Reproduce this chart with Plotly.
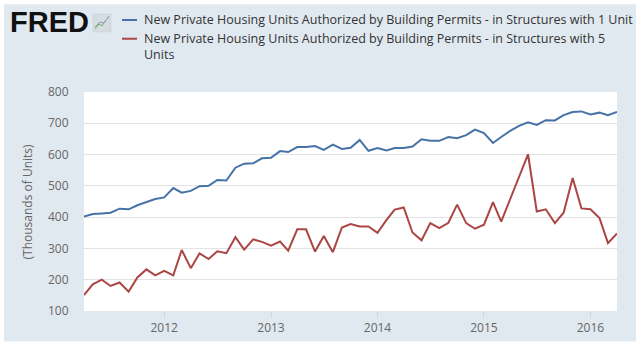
import pandas as pd
import plotly.graph_objects as go

# ---- data (thousands of units, SAAR), monthly Apr 2011 - Apr 2016 ----
dates = pd.date_range("2011-04-01", periods=61, freq="MS")
one_unit = [402, 410, 412, 414, 427, 425, 438, 448, 458, 463,
            493, 478, 484, 499, 500, 519, 517, 558, 571, 572,
            588, 590, 611, 608, 624, 624, 627, 615, 632, 618,
            622, 647, 612, 621, 613, 621, 621, 626, 649, 644,
            644, 656, 652, 662, 680, 669, 637, 656, 676, 692,
            703, 695, 710, 709, 726, 736, 738, 728, 734, 726, 736]
five_unit = [151, 185, 200, 180, 191, 162, 207, 233, 214, 228,
             214, 295, 237, 284, 266, 291, 285, 336, 296, 329,
             321, 309, 322, 293, 361, 361, 290, 340, 288, 367,
             378, 370, 370, 350, 391, 424, 431, 351, 326, 381,
             365, 382, 440, 381, 363, 376, 448, 386, 458, 530,
             601, 418, 425, 381, 414, 525, 428, 425, 397, 317, 348]
series_names = [
    "New Private Housing Units Authorized by Building Permits - in Structures with 1 Unit",
    "New Private Housing Units Authorized by Building Permits - in Structures with 5<br>Units",
]
y_ticks = [100, 200, 300, 400, 500, 600, 700, 800]
y_title = "(Thousands of Units)"

BLUE = "#4572a7"
RED = "#aa4643"
BG = "#e1e9f0"

W, H = 640, 348
L, R, T, B = 84, 23, 92, 34
PW, PH = W - L - R, H - T - B


def px(x):
    return (x - L) / PW


def py(y):
    return (H - B - y) / PH


fig = go.Figure()
fig.add_trace(go.Scatter(x=dates, y=one_unit, mode="lines", name=series_names[0],
                         line=dict(color=BLUE, width=2), showlegend=False))
fig.add_trace(go.Scatter(x=dates, y=five_unit, mode="lines", name=series_names[1],
                         line=dict(color=RED, width=2), showlegend=False))

shapes = [
    # outer light frame
    dict(type="rect", xref="paper", yref="paper", layer="below",
         x0=px(4), x1=px(636), y0=py(345), y1=py(3),
         fillcolor=BG, line=dict(width=0)),
    # white plot area
    dict(type="rect", xref="paper", yref="paper", layer="below",
         x0=0, x1=1, y0=0, y1=1, fillcolor="white", line=dict(width=0)),
    # logo icon
    dict(type="rect", xref="paper", yref="paper",
         x0=px(93), x1=px(111), y0=py(31), y1=py(13),
         fillcolor="#d5dde3", line=dict(width=0.5, color="#c4ccd2")),
    dict(type="path", xref="paper", yref="paper",
         path="M {} {} L {} {} L {} {} L {} {} L {} {}".format(
             px(95), py(28), px(99), py(23), px(102), py(25), px(106), py(19), px(109), py(16)),
         line=dict(color="#7aa85a", width=1)),
    dict(type="path", xref="paper", yref="paper",
         path="M {} {} L {} {} L {} {} L {} {}".format(
             px(95), py(26), px(100), py(21), px(104), py(22), px(109), py(15)),
         line=dict(color="#8aa0b8", width=1)),
    # legend symbols
    dict(type="line", xref="paper", yref="paper",
         x0=px(122), x1=px(137), y0=py(19), y1=py(19), line=dict(color=BLUE, width=2)),
    dict(type="line", xref="paper", yref="paper",
         x0=px(122), x1=px(137), y0=py(38), y1=py(38), line=dict(color=RED, width=2)),
]

legend_font = dict(family="Open Sans", size=12.5, color="#333333")
annotations = [
    dict(text="<b>FRED</b>", xref="paper", yref="paper", x=px(8), y=py(21),
         xanchor="left", yanchor="middle", showarrow=False,
         font=dict(family="Liberation Sans", size=29, color="#111111")),
    dict(text=series_names[0], xref="paper", yref="paper", x=px(142), y=py(19),
         xanchor="left", yanchor="middle", showarrow=False, align="left",
         font=legend_font),
    dict(text=series_names[1], xref="paper", yref="paper", x=px(142), y=py(46),
         xanchor="left", yanchor="middle", showarrow=False, align="left",
         font=legend_font),
    dict(text=y_title, xref="paper", yref="paper", x=px(27), y=0.5,
         xanchor="center", yanchor="middle", showarrow=False, textangle=-90,
         font=dict(family="Open Sans", size=12, color="#666666")),
]

fig.update_layout(
    width=W, height=H,
    margin=dict(l=L, r=R, t=T, b=B, pad=0),
    paper_bgcolor="white", plot_bgcolor="rgba(0,0,0,0)",
    shapes=shapes, annotations=annotations,
    font=dict(family="Open Sans", size=12, color="#666666"),
    xaxis=dict(
        type="date", range=[dates[0], dates[-1]],
        tick0="2012-01-01", dtick="M12", tickformat="%Y",
        ticks="outside", ticklen=6, tickcolor="#ccd6eb", tickwidth=1,
        showgrid=False, zeroline=False, showline=False,
        tickfont=dict(family="Open Sans", size=12, color="#666666"),
    ),
    yaxis=dict(
        range=[100, 800], tickvals=y_ticks,
        ticks="outside", ticklen=12, tickcolor="rgba(0,0,0,0)",
        showgrid=True, gridcolor="#e3e3e3", gridwidth=1,
        zeroline=False, showline=False,
        tickfont=dict(family="Open Sans", size=12, color="#666666"),
    ),
)

fig.write_html("out.html")
